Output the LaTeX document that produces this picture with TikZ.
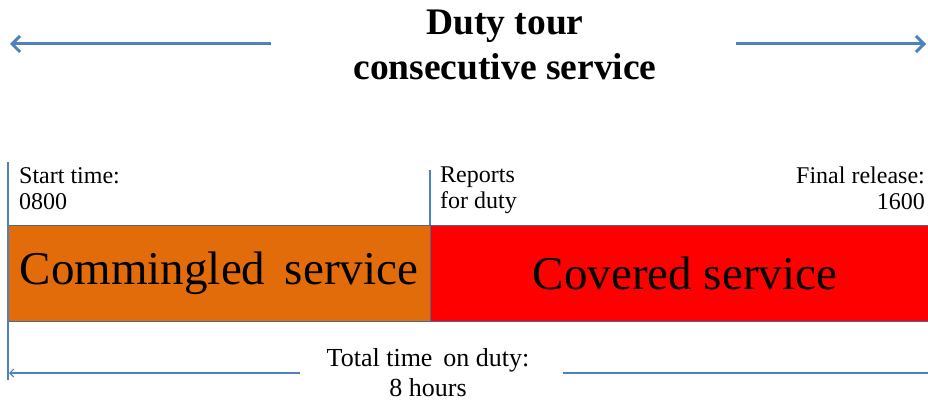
\documentclass[tikz,border=0pt]{standalone}
\usepackage{fontspec}
\setmainfont{Liberation Serif}
\usetikzlibrary{arrows.meta}
\definecolor{arrblue}{HTML}{4F81BD}
\definecolor{boxorange}{HTML}{E36C0A}
\definecolor{boxedge}{HTML}{4A6A96}
\tikzset{
  bigarrow/.style={draw=arrblue, line width=3pt, -{Straight Barb[length=8pt,width=16pt,line width=3pt]}},
  thinarrow/.style={draw=arrblue, line width=1.1pt, -{Straight Barb[length=4pt,width=8pt]}},
  thinline/.style={draw=arrblue, line width=1.1pt},
  band/.style={draw=boxedge, line width=1.3pt, minimum height=96pt, inner sep=0pt},
  bigtext/.style={inner sep=0pt, font=\fontsize{47}{50}\selectfont},
  lbl/.style={inner sep=0pt, font=\fontsize{24}{26}\selectfont},
  title/.style={inner sep=0pt, align=center, font=\fontsize{37.5}{45}\selectfont\bfseries}
}
\begin{document}
\begin{tikzpicture}[x=1pt,y=-1pt]
\useasboundingbox (0,0) rectangle (928,404);
% title
\node[title] (title) at (505,45) {Duty tour\\consecutive service};
\coordinate (la) at (271,44);
\coordinate (lb) at (10,44);
\coordinate (ra) at (736,44);
\coordinate (rb) at (926,44);
\draw[bigarrow] (la) -- (lb);
\draw[bigarrow] (ra) -- (rb);
% bands
\node[band, fill=boxorange, minimum width=422pt, anchor=north west] (comm) at (8,225) {};
\node[band, fill=red, minimum width=500pt, anchor=north west] (cov) at (430,225) {};
\node[bigtext] (commt) at (219,273) {Commingled\, service};
\node[bigtext] (covt) at (685,273) {Covered service};
% vertical ticks
\coordinate (t1) at (8,162);
\coordinate (t1b) at (8,380);
\coordinate (t2) at (430,170);
\draw[thinline] (t1) -- (t1b);
\draw[thinline] (t2) -- (cov.north west);
% labels
\node[lbl, anchor=north west, align=left] (start) at (19,167) {Start time:\\0800};
\node[lbl, anchor=north west, align=left] (rep) at (440,167) {Reports\\for duty};
\node[lbl, anchor=north east, align=right] (fin) at (925,167) {Final release:\\1600};
% total
\node[inner sep=0pt, align=center, font=\fontsize{26}{30}\selectfont] (tot) at (428,373) {Total time\, on duty:\\8 hours};
\coordinate (ba) at (300,373);
\coordinate (bb) at (9,373);
\coordinate (bc) at (563,373);
\coordinate (bd) at (928,373);
\draw[thinarrow] (ba) -- (bb);
\draw[thinline] (bc) -- (bd);
\end{tikzpicture}
\end{document}
